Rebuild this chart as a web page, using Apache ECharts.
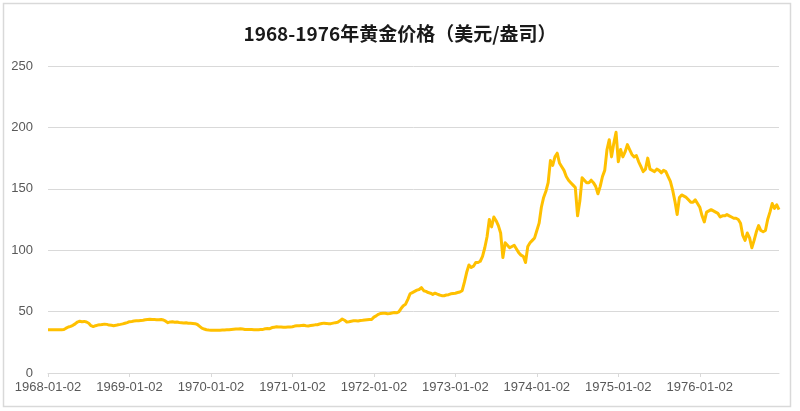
<!DOCTYPE html>
<html>
<head>
<meta charset="utf-8">
<script src="https://cdn.jsdelivr.net/npm/echarts@6/dist/echarts.min.js"></script>
<style>
html,body{margin:0;padding:0;background:#fff;}
#main{width:800px;height:411px;}
</style>
</head>
<body>
<div id="main"></div>
<script>
// Category dates: ~10-day sampling (02, 12, 22 of each month)
const years = ['1968','1969','1970','1971','1972','1973','1974','1975','1976'];
const months = ['01','02','03','04','05','06','07','08','09','10','11','12'];
const days = ['02','12','22'];

// Gold price (USD/oz), 3 readings per month, Jan..Dec
const price1968 = [35.2,35.2,35.2, 35.2,35.2,35.2, 35.2,35.4,36.5, 37.5,38.0,38.8, 40.0,41.5,42.2, 41.8,42.0,41.5, 40.5,38.5,37.8, 38.5,39.0,39.2, 39.5,39.8,39.6, 39.0,38.8,38.5, 38.8,39.3,39.6, 40.0,40.5,41.0];
const price1969 = [41.8,42.0,42.3, 42.5,42.6,42.8, 43.0,43.4,43.6, 43.8,43.6,43.5, 43.4,43.3,43.6, 43.2,42.2,41.0, 41.6,41.8,41.4, 41.5,41.2,41.0, 40.8,40.9,40.5, 40.6,40.4,40.2, 39.5,38.0,36.5, 35.8,35.2,35.0];
const price1970 = [34.9,34.8,34.8, 34.9,34.9,35.0, 35.1,35.2,35.2, 35.4,35.6,35.8, 35.9,36.0,35.8, 35.5,35.4,35.5, 35.4,35.3,35.3, 35.3,35.4,35.5, 36.0,36.2,36.1, 37.0,37.3,37.6, 37.5,37.4,37.2, 37.3,37.4,37.4];
const price1971 = [37.7,38.2,38.5, 38.4,38.6,38.8, 38.5,38.3,38.6, 38.9,39.2,39.3, 39.9,40.3,40.6, 40.4,40.1,40.2, 40.6,41.0,41.3, 42.5,44.0,43.0, 41.5,41.8,42.2, 42.5,42.6,42.4, 42.8,42.9,43.1, 43.3,43.5,43.6];
const price1972 = [45.5,46.5,47.8, 48.5,48.7,48.6, 48.3,48.5,48.9, 49.2,49.0,49.8, 52.5,54.8,56.0, 60.0,64.5,65.5, 66.5,67.5,68.0, 69.5,67.0,66.5, 65.5,65.0,64.0, 65.0,64.2,63.5, 63.0,62.9,63.5, 63.8,64.5,64.8];
const price1973 = [65.0,65.5,66.0, 67.0,74.0,82.0, 88.0,86.0,87.0, 90.0,90.0,91.0, 95.0,102.0,111.0, 125.0,119.0,127.0, 124.0,120.0,114.0, 94.0,106.0,104.0, 102.0,103.0,104.0, 101.0,98.0,96.0, 95.0,90.0,103.0, 106.0,108.0,110.0];
const price1974 = [116.0,122.0,135.0, 143.0,148.0,155.0, 173.0,169.0,176.0, 179.0,171.0,168.0, 165.0,160.0,157.0, 155.0,153.0,151.0, 128.0,140.0,159.0, 157.0,155.0,155.0, 157.0,155.0,152.0, 146.0,152.0,160.0, 165.0,182.0,190.0, 176.0,187.0,196.0];
const price1975 = [172.0,182.0,176.0, 180.0,186.0,182.0, 178.0,176.0,177.0, 172.0,168.0,164.0, 166.0,175.0,166.0, 165.0,164.0,166.0, 165.0,163.0,165.0, 164.0,160.0,156.0, 149.0,140.0,129.0, 143.0,145.0,144.0, 143.0,141.0,139.0, 139.0,141.0,138.0];
const price1976 = [135.0,128.0,123.0, 131.0,132.0,133.0, 132.0,131.0,130.0, 127.0,128.0,128.0, 129.0,128.0,127.0, 126.0,126.0,125.0, 122.0,112.0,108.0, 114.0,110.0,102.0, 108.0,115.0,120.0, 116.0,115.0,116.0, 125.0,131.0,138.0, 134.0,137.0,133.0];

const yTicks = [0, 50, 100, 150, 200, 250];

const categories = [];
years.forEach(y => months.forEach(m => days.forEach(d => categories.push(y + '-' + m + '-' + d))));
const prices = [].concat(price1968, price1969, price1970, price1971, price1972, price1973, price1974, price1975, price1976);

const isYearStart = (idx, val) => /-01-02$/.test(val);

const chart = echarts.init(document.getElementById('main'), null, {renderer: 'canvas'});
chart.setOption({
  backgroundColor: '#ffffff',
  animation: false,
  graphic: [{
    type: 'rect',
    shape: {x: 3.5, y: 3.5, width: 787, height: 403},
    style: {fill: 'none', stroke: '#d9d9d9', lineWidth: 1.5},
    silent: true
  }],
  title: {
    text: '1968-1976年黄金价格（美元/盎司）',
    left: 'center',
    top: 19,
    textStyle: {
      fontFamily: '"Noto Sans CJK SC", "Noto Sans", sans-serif',
      fontSize: 19,
      fontWeight: 'bold',
      color: '#1a1a1a'
    }
  },
  grid: {left: 48, right: 21, top: 66, bottom: 38, containLabel: false},
  xAxis: {
    type: 'category',
    data: categories,
    boundaryGap: false,
    axisLine: {show: true, lineStyle: {color: '#d9d9d9', width: 1}},
    axisTick: {show: true, interval: isYearStart, length: 4, lineStyle: {color: '#d9d9d9'}},
    axisLabel: {
      interval: isYearStart,
      color: '#595959',
      fontSize: 13,
      fontFamily: '"Liberation Sans", Arial, sans-serif',
      margin: 8
    },
    splitLine: {show: false}
  },
  yAxis: {
    type: 'value',
    min: yTicks[0],
    max: yTicks[yTicks.length - 1],
    interval: 50,
    axisLine: {show: false},
    axisTick: {show: false},
    axisLabel: {
      color: '#595959',
      fontSize: 13,
      fontFamily: '"Liberation Sans", Arial, sans-serif',
      margin: 15
    },
    splitLine: {show: true, lineStyle: {color: '#d9d9d9', width: 1}}
  },
  series: [{
    type: 'line',
    data: prices,
    showSymbol: false,
    symbol: 'none',
    smooth: false,
    lineStyle: {color: '#FFC000', width: 3, join: 'round'},
    itemStyle: {color: '#FFC000'}
  }]
});
</script>
</body>
</html>
